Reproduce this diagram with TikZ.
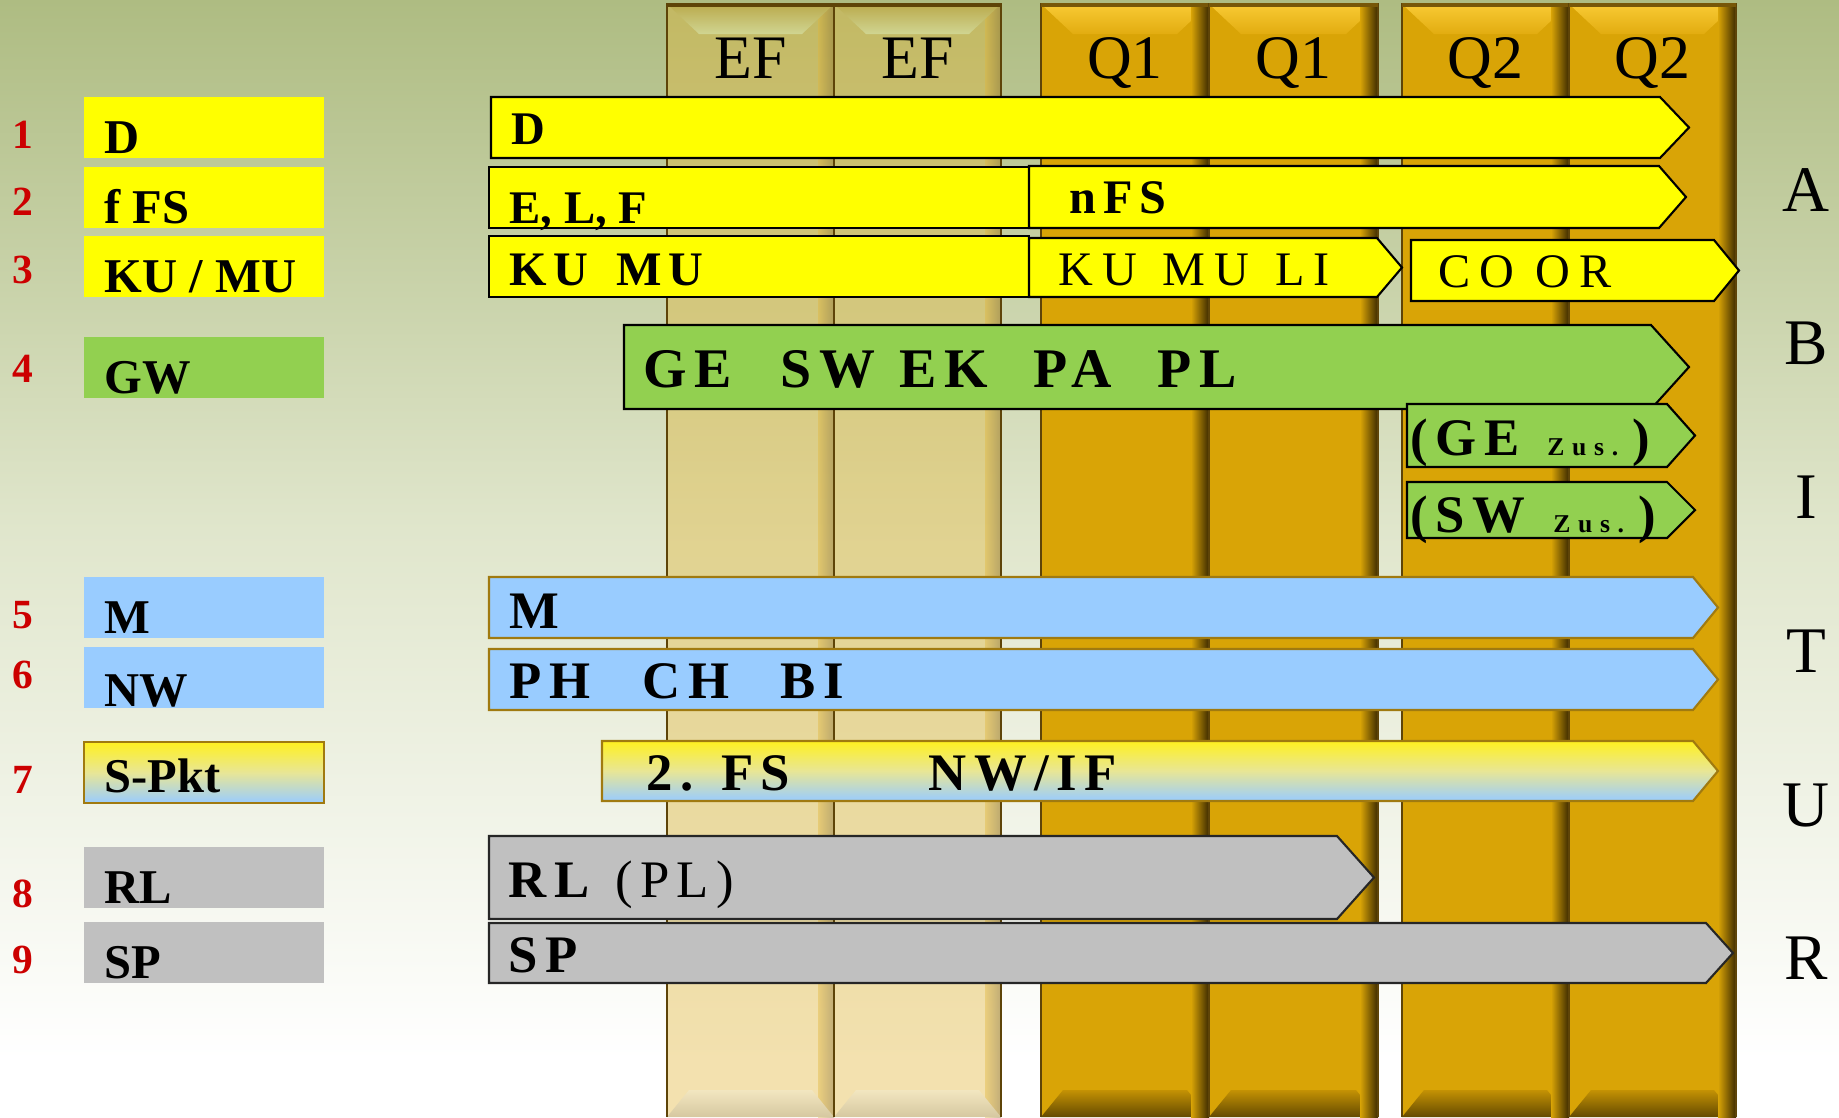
\documentclass[tikz,border=0pt]{standalone}
\usepackage{fontspec}
\setmainfont{Liberation Serif}
\newfontfamily\spc[LetterSpace=14]{Liberation Serif}
\newfontfamily\spcmid[LetterSpace=19]{Liberation Serif}
\newfontfamily\spcwide[LetterSpace=30]{Liberation Serif}

\definecolor{bgtop}{RGB}{174,188,130}
\definecolor{bgmid}{RGB}{224,230,204}
\definecolor{efc}{RGB}{225,181,55}
\definecolor{efdk}{RGB}{120,96,40}
\definecolor{efbev1}{RGB}{186,170,76}
\definecolor{efbev2}{RGB}{208,213,146}
\definecolor{efbot1}{RGB}{242,230,192}
\definecolor{efbot2}{RGB}{214,200,160}
\definecolor{qgold}{RGB}{217,164,6}
\definecolor{qdark}{RGB}{60,42,0}
\definecolor{qtop1}{RGB}{248,202,52}
\definecolor{qtop2}{RGB}{226,172,16}
\definecolor{qbot1}{RGB}{196,146,4}
\definecolor{qbot2}{RGB}{100,74,0}
\definecolor{colline}{RGB}{94,68,8}
\definecolor{barY}{RGB}{255,255,0}
\definecolor{barG}{RGB}{146,208,80}
\definecolor{barB}{RGB}{153,204,255}
\definecolor{barS}{RGB}{192,192,192}
\definecolor{fsTop}{RGB}{255,240,32}
\definecolor{fsMid}{RGB}{232,230,150}
\definecolor{blueline}{RGB}{160,122,16}
\definecolor{numred}{RGB}{204,0,0}

\newcommand\zustxt{{\spcwide\fontsize{7.3}{8}\selectfont\bfseries Zus.}}

\begin{document}
\begin{tikzpicture}[x=0.01cm, y=-0.01cm,
  num/.style={text=numred, anchor=base, inner sep=0pt,
              font=\fontsize{11.8}{12}\selectfont\bfseries},
  lab/.style={anchor=base west, inner sep=0pt,
              font=\fontsize{13.8}{14}\selectfont\bfseries},
  hdr/.style={anchor=base, inner sep=0pt, font=\fontsize{17.6}{18}\selectfont},
  abi/.style={anchor=base, inner sep=0pt, font=\fontsize{18.5}{19}\selectfont},
  txt/.style={anchor=base west, inner sep=0pt,
              font=\fontsize{13.3}{14}\selectfont\bfseries},
  txs/.style={anchor=base west, inner sep=0pt, font=\spcmid\fontsize{13.7}{14}\selectfont},
  txsb/.style={txs, font=\spc\fontsize{13.7}{14}\selectfont\bfseries},
  txb/.style={anchor=base west, inner sep=0pt,
              font=\spc\fontsize{15}{16}\selectfont\bfseries},
  gtx/.style={anchor=base west, inner sep=0pt,
              font=\spc\fontsize{15.9}{16}\selectfont\bfseries},
  lY/.style={fill=barY}, lG/.style={fill=barG}, lB/.style={fill=barB},
  lR/.style={fill=barS},
  lS/.style={top color=fsTop, bottom color=barB, middle color=fsMid,
             draw=blueline, line width=0.6pt},
  ybar/.style={fill=barY, draw=black, line width=0.6pt},
  gbar/.style={fill=barG, draw=black, line width=0.6pt},
  bbar/.style={fill=barB, draw=blueline, line width=0.6pt},
  sbar/.style={fill=barS, draw=black!85, line width=0.6pt},
  fbar/.style={top color=fsTop, bottom color=barB, middle color=fsMid,
               draw=blueline, line width=0.6pt}
]
\useasboundingbox (0,0) rectangle (1839,1117);
\shade[top color=bgtop, bottom color=white, middle color=bgmid] (0,0) rectangle (1839,1060);
\fill[white] (0,1060) rectangle (1839,1117);

% EF columns (see-through)
\foreach \xa/\xb/\k in {667/834/1, 834/1001/2} {
  \fill[efc, fill opacity=0.4] (\xa,4) rectangle (\xb,1117);
  \shade[left color=efc, right color=efdk, fill opacity=0.4] (\xb-16,4) rectangle (\xb,1117);
  \shade[top color=efbev1, bottom color=efbev2] (\xa,4) -- (\xb,4) -- (\xb-32,34) -- (\xa+32,34) -- cycle;
  \shade[top color=efbot1, bottom color=efbot2] (\xa,1117) -- (\xa+22,1090) -- (\xb-22,1090) -- (\xb,1117) -- cycle;
  \draw[colline, line width=0.8pt] (\xa,1117) -- (\xa,4) -- (\xb,4) -- (\xb,1117);
  \draw[colline, line width=1.2pt] (\xa,5) -- (\xb,5);
  \node[hdr] (ef\k) at ({(\xa+\xb)/2},78) {EF};
}

% Q columns
\foreach \xa/\xb/\lab/\k in {1041/1209/Q1/1, 1209/1378/Q1/2, 1402/1569/Q2/3, 1569/1736/Q2/4} {
  \fill[qgold] (\xa,4) rectangle (\xb,1117);
  \shade[top color=qtop1, bottom color=qtop2] (\xa,4) -- (\xb,4) -- (\xb-32,34) -- (\xa+32,34) -- cycle;
  \shade[top color=qbot1, bottom color=qbot2] (\xa,1117) -- (\xa+22,1090) -- (\xb-22,1090) -- (\xb,1117) -- cycle;
  \shade[left color=qgold, right color=qdark] (\xb-18,4) rectangle (\xb,1117);
  \draw[colline, line width=0.8pt] (\xa,1117) -- (\xa,4) -- (\xb,4) -- (\xb,1117);
  \draw[colline!80!qgold, line width=1.2pt] (\xa,5) -- (\xb,5);
  \node[hdr] (q\k) at ({(\xa+\xb)/2},78) {\lab};
}

% subject labels on the left
\foreach \st/\ya/\yb/\t/\k in {lY/97/153/D/1, lY/167/223/f FS/2, lY/236/292/{KU / MU}/3,
    lG/337/393/GW/4, lB/577/633/M/5, lB/647/706/NW/6, lS/742/792/S-Pkt/7,
    lR/847/903/RL/8, lR/922/978/SP/9} {
  \path[\st] (84,\ya) rectangle (324,\ya+61);
  \node[lab] (lab\k) at (104,\yb) {\t};
}
\foreach \n/\y in {1/148, 2/215, 3/283, 4/382, 5/628, 6/688, 7/793, 8/907, 9/973}
  \node[num] (n\n) at (23,\y) {\n};

% bars
\foreach \st/\xa/\ya/\xb/\yb/\tp in {
    ybar/491/97/1660/158/29, ybar/489/167/1029/228/0, ybar/1029/166/1659/228/27,
    ybar/489/236/1029/297/0, ybar/1029/238/1377/297/25, ybar/1411/240/1714/301/25,
    gbar/624/325/1651/409/38, gbar/1407/404/1667/467/28, gbar/1407/482/1667/538/28,
    bbar/489/577/1693/638/25, bbar/489/649/1693/710/25, fbar/602/741/1693/801/25,
    sbar/489/836/1337/919/37, sbar/489/923/1706/983/27}
  \draw[\st] (\xa,\ya) -- (\xb,\ya) -- ({\xb+\tp},{(\ya+\yb)/2}) -- (\xb,\yb) -- (\xa,\yb) -- cycle;

\node[txt] (tD) at (511,144) {D};
\node[txt] (tELF) at (509,223) {E, L, F};
\node[txsb] (tnFS) at (1069,213) {nFS};
\node[txsb] (tKUMU) at (509,285) {KU\hspace{2.5pt} MU};
\node[txs] (tKUMULI) at (1058,285) {KU\hspace{1.2pt} MU\hspace{1.2pt} LI};
\node[txs] (tCOOR) at (1438,287) {CO OR};
\foreach \w/\x [count=\i] in {GE/643, SW/780, EK/899, PA/1033, PL/1157}
  \node[gtx] (tgw\i) at (\x,387) {\w};
\node[txb] (tGEz) at (1410,455) {(GE\hspace{8pt}\zustxt\hspace{4pt})};
\node[txb] (tSWz) at (1410,532) {(SW\hspace{8pt}\zustxt\hspace{4pt})};
\node[txb] (tM) at (509,628) {M};
\foreach \w/\x [count=\i] in {PH/509, CH/642, BI/780}
  \node[txb] (tnw\i) at (\x,698) {\w};
\node[txb] (tFS) at (646,790) {2. FS};
\node[txb] (tNWIF) at (928,790) {NW/IF};
\node[txb] (tRL) at (508,897) {RL\hspace{1.5pt} {\mdseries(PL)}};
\node[txb] (tSP) at (508,972) {SP};

% ABITUR down the right side
\foreach \t/\y [count=\i] in {A/211, B/364, I/518, T/672, U/826, R/979}
  \node[abi] (abi\i) at (1806,\y) {\t};
\end{tikzpicture}
\end{document}
